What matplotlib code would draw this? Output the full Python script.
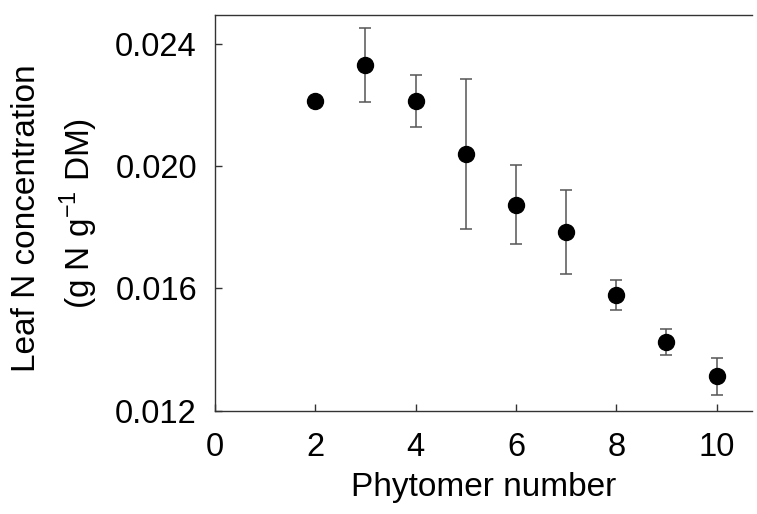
import matplotlib.pyplot as plt
import numpy as np

plt.rcParams['font.family'] = ['Liberation Sans', 'DejaVu Sans']
plt.rcParams['mathtext.fontset'] = 'custom'
plt.rcParams['mathtext.rm'] = 'Liberation Sans'

phytomer = [2, 3, 4, 5, 6, 7, 8, 9, 10]
leaf_n = [0.02214, 0.02331, 0.02214, 0.0204, 0.01874, 0.01784, 0.01578, 0.01425, 0.01312]
err = [0.0, 0.0012, 0.00085, 0.00245, 0.0013, 0.00137, 0.0005, 0.00042, 0.0006]

fig = plt.figure(figsize=(7.57, 5.14), dpi=100)
ax = fig.add_axes([0.284, 0.201, 0.709, 0.770])

ax.errorbar(phytomer, leaf_n, yerr=err, fmt='o', color='black', markersize=11.5,
            ecolor='#555555', elinewidth=1.1, capsize=4.5, capthick=1.1, zorder=3)

ax.set_xlim(0, 10.7)
ax.set_ylim(0.012, 0.02495)
ax.set_xticks([0, 2, 4, 6, 8, 10])
ax.set_yticks([0.012, 0.016, 0.020, 0.024])
ax.set_yticklabels(['0.012', '0.016', '0.020', '0.024'])

ax.spines['right'].set_visible(False)
for s in ['left', 'bottom', 'top']:
    ax.spines[s].set_color('#333333')
    ax.spines[s].set_linewidth(1.0)

ax.tick_params(direction='in', length=5, width=1, labelsize=23.5, color='#333333', pad=13)
ax.tick_params(axis='x', pad=15)

ax.set_xlabel('Phytomer number', fontsize=24, labelpad=7)

fig.text(0.035, 0.576, 'Leaf N concentration', rotation=90, fontsize=24, ha='center', va='center')
fig.text(0.104, 0.585, r'(g N g$^{\mathrm{-1}}$ DM)', rotation=90, fontsize=24, ha='center', va='center')

fig.savefig('out.png', dpi=100)
